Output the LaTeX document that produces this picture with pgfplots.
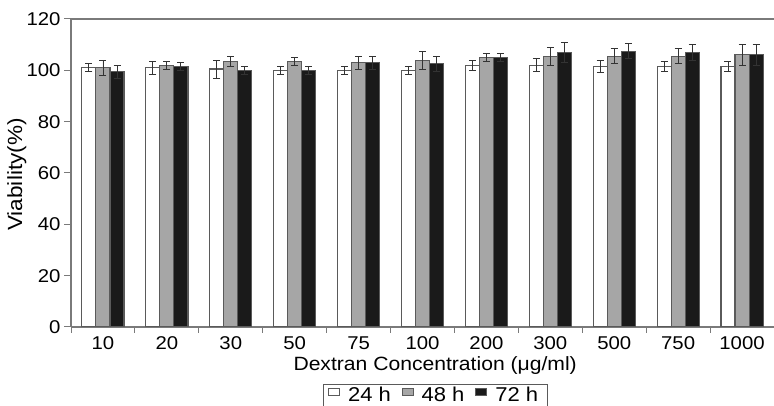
\documentclass[border=0pt]{standalone}
\usepackage{fontspec}
\setmainfont{Liberation Sans}[FakeStretch=1.1]
\usepackage{pgfplots}
\pgfplotsset{compat=1.18}
\usepackage{pgfplotstable}

% viability (%) and error, one table per time point
\pgfplotstableread{
x y e
0 101.0 1.5
1 101.0 2.5
2 100.5 3.5
3 100.0 1.5
4 100.0 1.5
5 100.0 1.5
6 102.0 2.0
7 102.0 2.5
8 101.5 2.5
9 101.5 2.0
10 101.5 2.0
}\datA
\pgfplotstableread{
x y e
0 101.0 3.0
1 102.0 1.5
2 103.5 2.0
3 103.5 1.5
4 103.0 2.5
5 104.0 3.5
6 105.0 1.5
7 105.5 3.5
8 105.5 3.0
9 105.5 3.0
10 106.0 4.0
}\datB
\pgfplotstableread{
x y e
0 99.5 2.5
1 101.5 1.5
2 100.0 1.5
3 100.0 1.5
4 103.0 2.5
5 102.5 3.0
6 105.0 1.5
7 107.0 4.0
8 107.5 3.0
9 107.0 3.0
10 106.0 4.0
}\datC

\definecolor{edge}{HTML}{5A5A5A}
\definecolor{midgray}{HTML}{A6A6A6}
\definecolor{nearblack}{HTML}{1A1A1A}
\definecolor{axgray}{HTML}{7A7A7A}

\begin{document}
\begin{tikzpicture}[x=1pt,y=1pt,font=\fontsize{18.5}{22}\selectfont]
\useasboundingbox (0,0) rectangle (774,406);
\begin{axis}[
    at={(71pt,79pt)}, anchor=south west,
    scale only axis,
    width=703pt, height=308pt,
    xmin=-0.5, xmax=10.5,
    ymin=0, ymax=120,
    ytick={0,20,...,120},
    xtick={0,...,10},
    xticklabels={10,20,30,50,75,100,200,300,500,750,1000},
    minor xtick={-0.5,0.5,...,10.5},
    major x tick style={draw=none},
    minor x tick style={draw=axgray, line width=1pt},
    y tick style={draw=axgray, line width=1pt},
    tick align=outside,
    major tick length=7pt,
    minor tick length=6pt,
    axis lines*=left,
    axis line style={draw=axgray, line width=1.2pt, -},
    /pgf/number format/assume math mode=true,
    xlabel={Dextran Concentration (μg/ml)},
    ylabel={Viability(\%)},
    xlabel style={at={(axis description cs:0.518,-0.086)}, anchor=north,
        font=\fontsize{19.2}{22}\selectfont},
    ylabel style={at={(axis description cs:-0.077,0.495)}, anchor=center,
        font=\fontsize{20.5}{24}\selectfont},
    xticklabel style={yshift=1pt},
    ybar=0pt,
    bar width=0.22,
    legend columns=3,
    legend style={at={(axis description cs:0.518,-0.185)}, anchor=north,
        draw=edge, line width=1pt, inner xsep=5pt, inner ysep=1pt,
        font=\fontsize{20}{23}\selectfont,
        nodes={inner xsep=4pt, inner ysep=2pt},
        /tikz/every odd column/.append style={column sep=4pt},
        /tikz/every even column/.append style={column sep=7pt}},
    legend image code/.code={\draw[#1, line width=0.8pt] (0pt,0pt) rectangle (11pt,7pt);},
    error bars/y dir=both,
    error bars/y explicit,
    error bars/error bar style={draw=black!80, line width=0.9pt},
    error bars/error mark options={rotate=90, mark size=3.5pt, draw=black!80, line width=0.9pt},
]
\addplot[fill=white, draw=edge, line width=1.1pt] table[x=x, y=y, y error=e] {\datA};
\addplot[fill=midgray, draw=edge, line width=1.1pt] table[x=x, y=y, y error=e] {\datB};
\addplot[fill=nearblack, draw=edge, line width=1.1pt] table[x=x, y=y, y error=e] {\datC};
\legend{24 h, 48 h, 72 h}
\draw[axgray, line width=1.2pt] (rel axis cs:0,1) -- (rel axis cs:1,1);
\end{axis}
\end{tikzpicture}
\end{document}
